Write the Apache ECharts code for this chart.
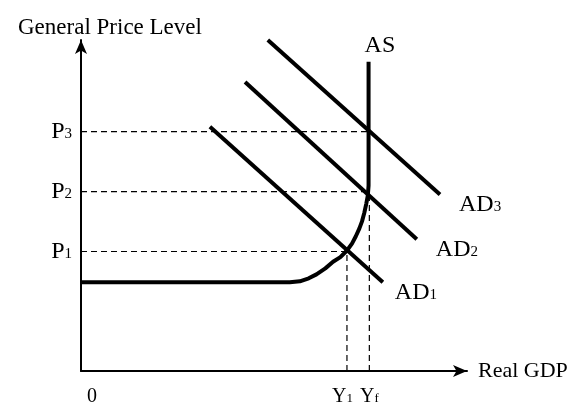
<!DOCTYPE html>
<html>
<head>
<meta charset="utf-8">
<script src="https://cdn.jsdelivr.net/npm/echarts@6/dist/echarts.min.js"></script>
<style>
  html, body { margin: 0; background: #fff; }
  #chart { width: 575px; height: 407px; }
</style>
</head>
<body>
<div id="chart"></div>
<script>
// price levels on the vertical axis and their subscripts
const priceLevels = [3.61, 5.42, 7.23];
const priceSubs = ["1", "2", "3"];
// output levels on the horizontal axis
const outputLevels = [0, 6.89, 7.47];
const outputSubs = ["", "1", "f"];

// aggregate supply: flat, then bending up to vertical at full employment
const asCurve = [
  [0, 2.68], [5.41, 2.68], [5.67, 2.71], [5.9, 2.8], [6.1, 2.92],
  [6.33, 3.1], [6.53, 3.3], [6.72, 3.44], [6.89, 3.64], [7.02, 3.85],
  [7.12, 4.07], [7.21, 4.3], [7.28, 4.52], [7.34, 4.78], [7.39, 5.05],
  [7.43, 5.3], [7.45, 5.6], [7.45, 9.34]
];
// aggregate demand lines (start, end)
const ad1 = [[3.34, 7.38], [7.82, 2.68]];
const ad2 = [[4.25, 8.73], [8.70, 3.98]];
const ad3 = [[4.84, 10.0], [9.30, 5.33]];

const serif = "'Liberation Serif', 'DejaVu Serif', serif";
const bigRich = {
  b: { fontSize: 24, fontFamily: serif, color: "#000", lineHeight: 24, verticalAlign: "bottom" },
  s: { fontSize: 15, fontFamily: serif, color: "#000", lineHeight: 15, verticalAlign: "bottom", padding: [0, 0, 2, 0] }
};
const smallRich = {
  b: { fontSize: 20, fontFamily: serif, color: "#000", lineHeight: 20, verticalAlign: "bottom" },
  s: { fontSize: 13, fontFamily: serif, color: "#000", lineHeight: 13, verticalAlign: "bottom", padding: [0, 0, 2, 0] },
  g: { fontSize: 13, fontFamily: serif, color: "#000", lineHeight: 13, verticalAlign: "bottom", padding: [0, 9, 2, 0] },
  z: { fontSize: 20, fontFamily: serif, color: "#000", lineHeight: 20, padding: [0, 0, 0, 22] }
};

const chart = echarts.init(document.getElementById("chart"));

const dashed = { color: "#000", width: 1.2, type: [6, 4] };
const dashSeries = (pts) => ({
  type: "line", data: pts, symbol: "none", silent: true,
  lineStyle: dashed, z: 1
});

const solid = (pts, label, offset) => ({
  type: "line", data: pts, symbol: "none", silent: true,
  lineStyle: { color: "#000", width: 4 },
  z: 3,
  endLabel: {
    show: true,
    offset: offset,
    formatter: label,
    rich: bigRich
  }
});

const outLabel = (v) => {
  const i = outputLevels.indexOf(v);
  if (i === 0) return "{z|0}";
  // Y1 keeps a gap before Yf
  return "{b|Y}{" + (i === 1 ? "g" : "s") + "|" + outputSubs[i] + "}";
};

const option = {
  animation: false,
  title: {
    text: "General Price Level",
    left: 13,
    top: 11,
    textStyle: { fontFamily: serif, fontSize: 23, fontWeight: "normal", color: "#000" }
  },
  grid: { left: 81, top: 40, width: 386, height: 332 },
  xAxis: [
    {
      type: "value", min: 0, max: 10,
      name: "Real GDP",
      nameGap: 11,
      nameTextStyle: { fontFamily: serif, fontSize: 22, color: "#000", padding: [0, 0, 10, 0] },
      splitLine: { show: false },
      axisTick: { show: false },
      axisLine: {
        lineStyle: { color: "#000", width: 2 },
        symbol: ["none", "arrow"], symbolSize: [9, 14]
      },
      axisLabel: {
        customValues: outputLevels.slice(0, 2),
        margin: 16,
        formatter: outLabel,
        rich: smallRich
      }
    },
    {
      // second bottom axis only carries the Yf label so it is not hidden by overlap
      type: "value", min: 0, max: 10, position: "bottom",
      splitLine: { show: false },
      axisTick: { show: false },
      axisLine: { show: false },
      axisLabel: {
        customValues: outputLevels.slice(2),
        margin: 16,
        formatter: outLabel,
        rich: smallRich
      }
    }
  ],
  yAxis: {
    type: "value", min: 0, max: 10,
    splitLine: { show: false },
    axisTick: { show: false },
    axisLine: {
      lineStyle: { color: "#000", width: 2 },
      symbol: ["none", "arrow"], symbolSize: [9, 14]
    },
    axisLabel: {
      customValues: priceLevels,
      margin: 9,
      formatter: (v) => "{b|P}{s|" + priceSubs[priceLevels.indexOf(v)] + "}",
      rich: bigRich
    }
  },
  series: [
    dashSeries([[0, priceLevels[0]], [outputLevels[1], priceLevels[0]]]),
    dashSeries([[0, priceLevels[1]], [outputLevels[2], priceLevels[1]]]),
    dashSeries([[0, priceLevels[2]], [outputLevels[2], priceLevels[2]]]),
    dashSeries([[outputLevels[1], 0], [outputLevels[1], priceLevels[0]]]),
    dashSeries([[outputLevels[2], 0], [outputLevels[2], priceLevels[1]]]),
    solid(asCurve, "{b|AS}", [-12, -16]),
    solid(ad1, "{b|AD}{s|1}", [4, 10]),
    solid(ad2, "{b|AD}{s|2}", [11, 10]),
    solid(ad3, "{b|AD}{s|3}", [11, 10])
  ]
};

chart.setOption(option);
</script>
</body>
</html>
